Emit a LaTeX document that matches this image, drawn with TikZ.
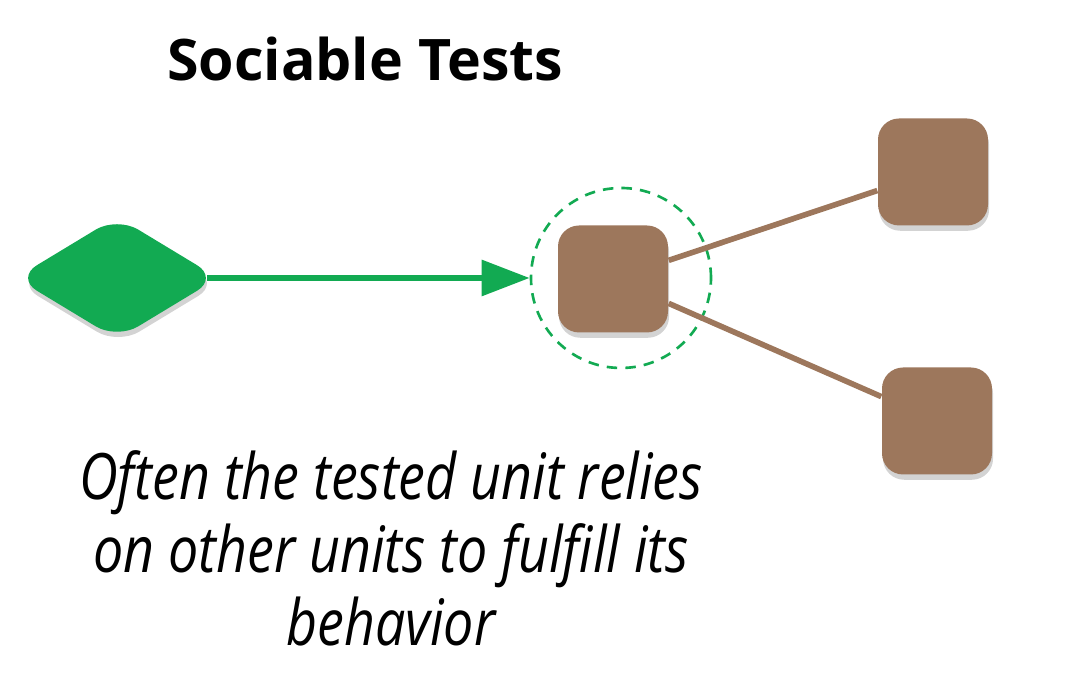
\documentclass[tikz,border=0pt]{standalone}
\usepackage{fontspec}
\usepackage{xcolor}
\usepackage{tikz}
\usetikzlibrary{positioning,arrows.meta,shadows,shapes.geometric}
\setmainfont{Open Sans}
\newfontfamily\notefont[FakeStretch=0.84]{Open Sans}
\definecolor{testgreen}{RGB}{18,170,82}
\definecolor{unitbrown}{RGB}{157,119,92}

\begin{document}
\begin{tikzpicture}[
            node distance=0.4cm,
            unit/.style={rectangle, rounded corners=6pt, fill=unitbrown,
                        minimum width=1.10cm, minimum height=1.07cm, inner sep=0pt,
                        drop shadow={shadow xshift=0.3pt, shadow yshift=-1.5pt, opacity=0.35}},
            link/.style={draw=unitbrown, line width=1.6pt},
            caption/.style={font=\notefont\fontsize{18.2}{20.8}\selectfont\itshape, align=center}
        ]
            \useasboundingbox (0,0) rectangle (10.88,6.88);

            \node[font=\fontsize{16.3}{19}\selectfont\bfseries] (title) at (3.65,6.29) {Sociable Tests};

            % the test
            \node[diamond, fill=testgreen, minimum width=2.03cm, minimum height=1.23cm,
                  inner sep=0pt, rounded corners=7pt,
                  drop shadow={shadow xshift=0.3pt, shadow yshift=-1.5pt, opacity=0.35}] (test) at (1.17,4.10) {};

            % tested unit and its collaborators
            \node[unit] (unit) at (6.13,4.09) {};
            \node[circle, draw=testgreen, dashed, dash pattern=on 3pt off 2.3pt, line width=0.75pt,
                  minimum size=1.80cm, inner sep=0pt] (ring) at (6.21,4.10) {};
            \node[unit] (upper) at (9.33,5.16) {};
            \node[unit] (lower) at (9.37,2.67) {};

            \draw[testgreen, line width=1.75pt, shorten <=-0.12cm,
                  -{Triangle[length=0.48cm, width=0.35cm]}] (test.east) -- (ring.west);
            \draw[link] (unit) -- (upper);
            \draw[link] (unit) -- (lower);

            \node[caption] (note) at (3.91,1.40) {Often the tested unit relies\\on other units to fulfill its\\behavior};
        \end{tikzpicture}
\end{document}
